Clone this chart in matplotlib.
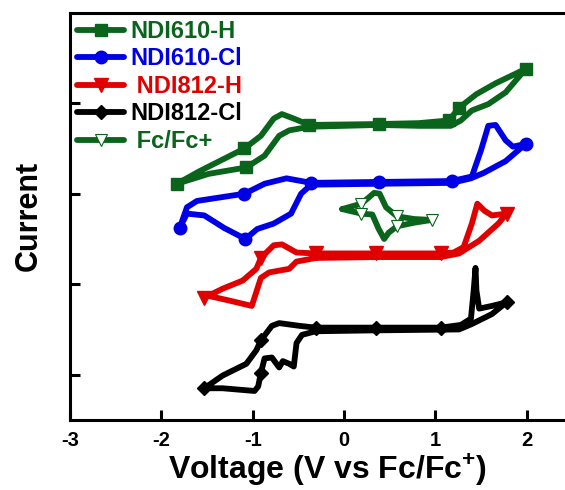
import matplotlib
matplotlib.use("Agg")
import matplotlib.pyplot as plt

# NDI610-H
h610_x = [-1.83, -1.58, -1.09, -0.91, -0.77, -0.68, -0.55, -0.38, 0.38, 0.82, 1.15, 1.26, 1.45, 1.66, 1.99,
          1.77, 1.58, 1.40, 1.28, 1.17, 0.82, 0.38, -0.38, -0.60, -0.71, -0.87, -1.07, -1.48, -1.83]
h610_y = [2.11, 2.25, 2.50, 2.64, 2.83, 2.88, 2.83, 2.76, 2.77, 2.78, 2.81, 2.95, 3.10, 3.22, 3.38,
          3.12, 2.99, 2.92, 2.81, 2.75, 2.75, 2.76, 2.74, 2.70, 2.64, 2.42, 2.29, 2.22, 2.11]
h610_marks = [0, 2, 7, 8, 10, 11, 14, 26]

# NDI610-Cl
cl610_x = [-1.80, -1.72, -1.61, -1.09, -0.87, -0.63, -0.36, 0.38, 1.18, 1.40, 1.50, 1.58, 1.66, 1.77, 1.85, 1.99,
           1.77, 1.53, 1.39, 1.18, 0.38, -0.36, -0.47, -0.58, -0.77, -0.95, -1.08, -1.31, -1.53, -1.72, -1.80]
cl610_y = [1.62, 1.85, 1.92, 2.00, 2.11, 2.17, 2.12, 2.13, 2.14, 2.19, 2.48, 2.75, 2.76, 2.59, 2.52, 2.55,
           2.36, 2.23, 2.17, 2.12, 2.11, 2.10, 2.00, 1.78, 1.67, 1.61, 1.50, 1.62, 1.76, 1.78, 1.62]
cl610_marks = [0, 3, 6, 7, 8, 15, 26]

# NDI812-H
h812_x = [-1.53, -1.33, -1.11, -0.96, -0.91, -0.77, -0.68, -0.52, -0.31, 0.35, 1.06, 1.20, 1.31, 1.40, 1.46, 1.54, 1.62, 1.78,
          1.69, 1.48, 1.26, 1.06, 0.35, -0.31, -0.52, -0.60, -0.82, -0.91, -1.01, -1.26, -1.48, -1.53]
h812_y = [0.85, 0.95, 1.04, 1.17, 1.29, 1.43, 1.44, 1.35, 1.34, 1.34, 1.34, 1.35, 1.41, 1.67, 1.89, 1.81, 1.76, 1.78,
          1.67, 1.48, 1.34, 1.30, 1.30, 1.29, 1.25, 1.17, 1.13, 1.07, 0.76, 0.82, 0.87, 0.85]
h812_marks = [0, 4, 8, 9, 10, 17]

# NDI812-Cl
cl812_x = [-1.53, -1.33, -1.07, -0.96, -0.91, -0.79, -0.71, -0.49, -0.31, 0.35, 1.06, 1.28, 1.39, 1.42, 1.44, 1.45, 1.48, 1.62, 1.78,
           1.62, 1.40, 1.26, 0.35, -0.31, -0.46, -0.52, -0.55, -0.60, -0.67, -0.71, -0.79, -0.87, -0.91, -0.94, -0.98, -1.33, -1.53]
cl812_y = [-0.15, -0.01, 0.12, 0.27, 0.38, 0.54, 0.57, 0.54, 0.52, 0.52, 0.52, 0.55, 0.62, 0.93, 1.18, 0.93, 0.73, 0.76, 0.80,
           0.67, 0.56, 0.50, 0.49, 0.48, 0.44, 0.35, 0.09, 0.12, 0.15, 0.08, 0.19, 0.18, 0.02, -0.13, -0.18, -0.15, -0.15]
cl812_marks = [0, 4, 8, 9, 10, 18, 32]

# Fc/Fc+
fc_x = [-0.02, 0.19, 0.25, 0.33, 0.39, 0.46, 0.58, 0.77, 0.96,
        0.77, 0.58, 0.49, 0.44, 0.38, 0.31, 0.19, -0.02]
fc_y = [1.83, 1.89, 1.94, 2.01, 2.00, 1.85, 1.75, 1.72, 1.71,
        1.68, 1.64, 1.57, 1.50, 1.61, 1.77, 1.78, 1.83]
fc_marks = [1, 6, 8, 10, 15]

x_ticks = [-3, -2, -1, 0, 1, 2]
y_ticks = [0, 1, 2, 3]

green = "#0b641c"
blue = "#0000e6"
red = "#e00000"
black = "#000000"

plt.rcParams["font.family"] = ["Liberation Sans", "DejaVu Sans"]
plt.rcParams["font.weight"] = "bold"
plt.rcParams["axes.unicode_minus"] = False
plt.rcParams["mathtext.fontset"] = "custom"
plt.rcParams["mathtext.bf"] = "Liberation Sans:bold"

fig = plt.figure(figsize=(5.65, 4.9), dpi=100)
ax = fig.add_axes([0.124, 0.143, 0.876, 0.831])

lw = 4.2
style = dict(lw=lw, solid_joinstyle="round", solid_capstyle="round")
ax.plot(h610_x, h610_y, color=green, marker="s", ms=9, markevery=h610_marks, label="NDI610-H", **style)
ax.plot(cl610_x, cl610_y, color=blue, marker="o", ms=9, markevery=cl610_marks, label="NDI610-Cl", **style)
ax.plot(h812_x, h812_y, color=red, marker="v", ms=10, markevery=h812_marks, label=" NDI812-H", **style)
ax.plot(cl812_x, cl812_y, color=black, marker="D", ms=7, markevery=cl812_marks, label="NDI812-Cl", **style)
ax.plot(fc_x, fc_y, color=green, marker="v", ms=8, mfc="white", mec=green, mew=0.8,
        markevery=fc_marks, label=" Fc/Fc+", **style)

ax.set_xlim(-3, 2.42)
ax.set_ylim(-0.5, 4.0)
ax.set_xticks(x_ticks)
ax.set_yticks(y_ticks)
ax.set_yticklabels([])
ax.tick_params(direction="in", length=7, width=2.2, labelsize=14.5, pad=8)
for lab in ax.get_xticklabels():
    lab.set_fontweight("bold")
for side in ["left", "bottom", "top"]:
    ax.spines[side].set_linewidth(2.2)
ax.spines["right"].set_visible(False)

ax.set_xlabel(r"Voltage (V vs Fc/Fc$^{\mathbf{+}}$)", fontsize=23, fontweight="bold",
              labelpad=1, x=0.52)
ax.set_ylabel("Current", fontsize=22, fontweight="bold", labelpad=11)

leg = ax.legend(loc="upper left", bbox_to_anchor=(0, 1), frameon=False,
                handlelength=2.0, handletextpad=0.25, labelspacing=0.19, borderaxespad=0,
                borderpad=0.3, numpoints=1, prop={"weight": "bold", "size": 17})
for text, line in zip(leg.get_texts(), leg.get_lines()):
    text.set_color(line.get_color())

fig.savefig("out.png", dpi=100)
